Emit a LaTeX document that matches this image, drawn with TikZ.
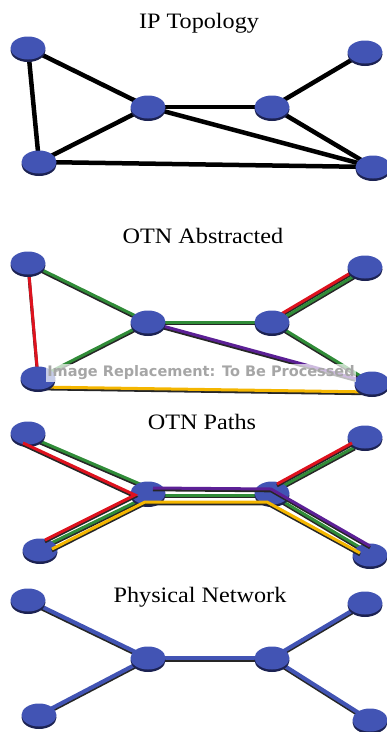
\documentclass[tikz,border=0pt]{standalone}
\usepackage{fontspec}
\setmainfont{Liberation Serif}[FakeStretch=1.1]
\newfontfamily\markfont{DejaVu Sans}
\usetikzlibrary{shapes.geometric,shadows,backgrounds,calc}
\definecolor{nodeblue}{RGB}{66,84,180}
\definecolor{nodedark}{RGB}{28,34,82}
\definecolor{otngreen}{RGB}{48,140,56}
\definecolor{otnred}{RGB}{222,18,30}
\definecolor{otnpurple}{RGB}{92,32,150}
\definecolor{otnyellow}{RGB}{244,182,0}
\pgfdeclarelayer{front}
\pgfsetlayers{background,main,front}
\tikzset{
  router/.style={ellipse, fill=nodeblue, minimum width=35pt, minimum height=23pt, inner sep=0pt,
    drop shadow={shadow xshift=0pt, shadow yshift=-2.5pt, fill=nodedark, opacity=1}},
  paneltitle/.style={anchor=base, font=\fontsize{22}{26}\selectfont},
  iplink/.style={line width=4.5pt, draw=black},
  link/.style 2 args={line width=#2, draw=#1,
    preaction={draw=black!85, line width=#2, transform canvas={yshift=-1.8pt}}},
  otn/.style={link={#1}{3pt}},
}
\begin{document}
\begin{tikzpicture}[x=1pt,y=-1pt]
    \useasboundingbox (0,0) rectangle (387,732);
    % IP topology
    \node[paneltitle] (t1) at (199,28) {IP Topology};
    \node[router] (a1) at (28,48) {};
    \node[router] (b1) at (365,52) {};
    \node[router] (c1) at (148,107) {};
    \node[router] (d1) at (272,107) {};
    \node[router] (e1) at (39,162) {};
    \node[router] (f1) at (373,167) {};
    \begin{pgfonlayer}{background}
    \foreach \u/\v in {a1/c1,a1/e1,c1/d1,d1/b1,c1/e1,c1/f1,d1/f1,e1/f1}
        \draw[iplink] (\u.center)--(\v.center);
    \end{pgfonlayer}
    % OTN abstracted
    \node[paneltitle] (t2) at (203,243) {OTN Abstracted};
    \node[router] (a2) at (28,263) {};
    \node[router] (b2) at (365,267) {};
    \node[router] (c2) at (148,322) {};
    \node[router] (d2) at (272,322) {};
    \node[router] (e2) at (38,378) {};
    \node[router] (f2) at (372,383) {};
    \begin{pgfonlayer}{background}
    \draw[otn=otnred] (a2.center)--(e2.center);
    \foreach \u/\v in {a2/c2,c2/d2,c2/e2,d2/f2}
        \draw[otn=otngreen] (\u.center)--(\v.center);
    \draw[otn=otnred] ($(d2)+(-1,-2)$)--($(b2)+(-1,-2)$);
    \draw[otn=otngreen] ($(d2)+(1,2)$)--($(b2)+(1,2)$);
    \draw[otn=otnpurple] (c2.center)--(f2.center);
    \draw[otn=otnyellow] ($(e2)+(0,9)$)--($(f2)+(0,9)$);
    \end{pgfonlayer}
    \begin{pgfonlayer}{front}
    \node[fill=white, fill opacity=0.7, text opacity=1, text=black!35, inner sep=1.5pt,
        font=\markfont\bfseries\fontsize{14.5}{16}\selectfont] (wm) at (201,373) {Image Replacement: To Be Processed};
    \end{pgfonlayer}
    % OTN paths
    \node[paneltitle] (t3) at (202,429) {OTN Paths};
    \node[router] (a3) at (28,433) {};
    \node[router] (b3) at (365,437) {};
    \node[router] (c3) at (148,493) {};
    \node[router] (d3) at (272,493) {};
    \node[router] (e3) at (40,550) {};
    \node[router] (f3) at (370,555) {};
    \begin{pgfonlayer}{background}
    \draw[otn=otngreen] ($(a3)+(0,3)$)--($(c3)+(-1,-6)$);
    \draw[otn=otngreen] ($(c3)+(0,2)$)--($(d3)+(0,2)$);
    \draw[otn=otngreen] ($(c3)+(0,3)$)--($(e3)+(7,-5)$);
    \draw[otn=otngreen] ($(d3)+(7,-5)$)--($(b3)+(-10,10)$);
    \draw[otn=otngreen] ($(d3)+(0,2)$)--($(f3)+(-4,-4)$);
    \end{pgfonlayer}
    \begin{pgfonlayer}{front}
    \draw[otn=otnred] ($(a3)+(-5,10)$)--($(c3)+(-13,2)$)--($(e3)+(5,-10)$);
    \draw[otn=otnred] ($(d3)+(5,-9)$)--($(b3)+(-13,6)$);
    \draw[otn=otnpurple] ($(c3)+(5,-5)$)--($(d3)+(-1,-4)$)--($(f3)+(0,-9)$);
    \draw[otn=otnyellow] ($(e3)+(12,-1)$)--($(c3)+(-3,9)$)--($(d3)+(-5,9)$)--($(f3)+(-10,-2)$);
    \end{pgfonlayer}
    % physical network
    \node[paneltitle] (t4) at (200,602) {Physical Network};
    \node[router] (a4) at (28,600) {};
    \node[router] (b4) at (365,603) {};
    \node[router] (c4) at (148,658) {};
    \node[router] (d4) at (272,658) {};
    \node[router] (e4) at (39,715) {};
    \node[router] (f4) at (370,720) {};
    \begin{pgfonlayer}{background}
    \foreach \u/\v in {a4/c4,e4/c4,c4/d4,d4/b4,d4/f4}
        \draw[link={nodeblue}{4pt}] (\u.center)--(\v.center);
    \end{pgfonlayer}
\end{tikzpicture}
\end{document}
